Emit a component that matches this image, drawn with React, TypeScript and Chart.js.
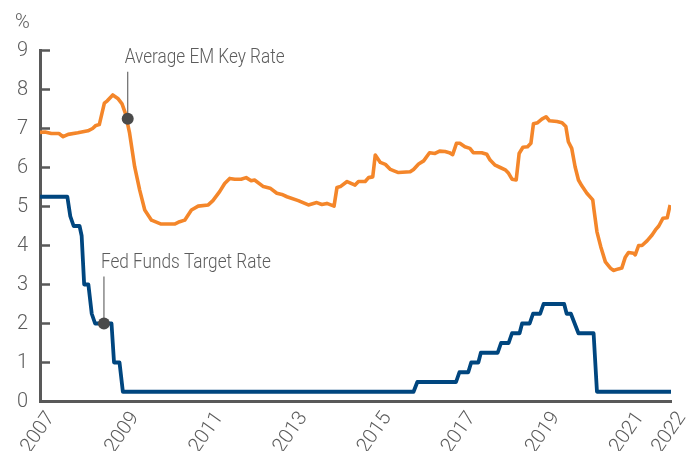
import React, { useEffect, useRef } from 'react';
import { Chart, registerables } from 'chart.js';

Chart.register(...registerables);

// ---- Data ----
const emYears = [
  2007.0, 2007.12, 2007.27, 2007.45, 2007.55, 2007.67, 2007.9, 2008.14, 2008.25, 2008.33,
  2008.41, 2008.53, 2008.6, 2008.73, 2008.85, 2008.95, 2009.03, 2009.13, 2009.25, 2009.37,
  2009.49, 2009.65, 2009.88, 2010.2, 2010.32, 2010.44, 2010.6, 2010.76, 2011.0, 2011.11,
  2011.27, 2011.39, 2011.51, 2011.63, 2011.78, 2011.9, 2012.02, 2012.1, 2012.31, 2012.47,
  2012.63, 2012.75, 2012.87, 2013.14, 2013.38, 2013.58, 2013.7, 2013.82, 2013.99, 2014.06,
  2014.14, 2014.3, 2014.49, 2014.57, 2014.73, 2014.81, 2014.91, 2014.97, 2015.09, 2015.21,
  2015.33, 2015.4, 2015.52, 2015.8, 2015.88, 2016.0, 2016.12, 2016.26, 2016.39, 2016.5,
  2016.63, 2016.73, 2016.81, 2016.9, 2016.98, 2017.1, 2017.22, 2017.3, 2017.5, 2017.62,
  2017.7, 2017.82, 2017.94, 2018.06, 2018.14, 2018.22, 2018.32, 2018.39, 2018.48, 2018.59,
  2018.67, 2018.73, 2018.83, 2018.93, 2019.03, 2019.11, 2019.29, 2019.41, 2019.5, 2019.56,
  2019.64, 2019.72, 2019.8, 2019.88, 2020.0, 2020.14, 2020.17, 2020.24, 2020.33, 2020.44,
  2020.56, 2020.63, 2020.75, 2020.83, 2020.91, 2020.99, 2021.11, 2021.15, 2021.23, 2021.31,
  2021.43, 2021.55, 2021.63, 2021.71, 2021.81, 2021.91, 2021.98,
];
const emRates = [
  6.9, 6.91, 6.87, 6.87, 6.79, 6.85, 6.89, 6.94, 7.0, 7.08,
  7.1, 7.65, 7.71, 7.86, 7.77, 7.63, 7.39, 6.88, 6.02, 5.42,
  4.91, 4.65, 4.55, 4.55, 4.61, 4.65, 4.91, 5.01, 5.04, 5.15,
  5.38, 5.59, 5.72, 5.7, 5.7, 5.74, 5.66, 5.68, 5.51, 5.47,
  5.34, 5.31, 5.25, 5.15, 5.04, 5.1, 5.05, 5.08, 5.01, 5.49,
  5.51, 5.64, 5.55, 5.64, 5.64, 5.74, 5.76, 6.32, 6.13, 6.08,
  5.95, 5.92, 5.87, 5.89, 5.95, 6.09, 6.17, 6.38, 6.36, 6.42,
  6.41, 6.38, 6.33, 6.62, 6.62, 6.53, 6.49, 6.38, 6.38, 6.34,
  6.19, 6.06, 6.0, 5.94, 5.85, 5.7, 5.68, 6.36, 6.52, 6.53,
  6.62, 7.12, 7.15, 7.24, 7.3, 7.2, 7.18, 7.15, 7.05, 6.66,
  6.49, 6.02, 5.68, 5.53, 5.34, 5.17, 4.91, 4.35, 3.97, 3.58,
  3.42, 3.36, 3.4, 3.42, 3.69, 3.82, 3.8, 3.76, 4.0, 4.0,
  4.12, 4.27, 4.4, 4.5, 4.7, 4.71, 5.04,
];

const fedYears = [
  2007.0, 2007.65, 2007.72, 2007.8, 2007.94, 2007.99, 2008.05, 2008.15, 2008.23, 2008.31,
  2008.7, 2008.76, 2008.89, 2008.97, 2015.88, 2015.97, 2016.89, 2016.97, 2017.18, 2017.25,
  2017.42, 2017.48, 2017.88, 2017.96, 2018.14, 2018.22, 2018.4, 2018.46, 2018.64, 2018.72,
  2018.89, 2018.97, 2019.46, 2019.52, 2019.62, 2019.8, 2020.16, 2020.24, 2022.0,
];
const fedRates = [
  5.25, 5.25, 4.75, 4.5, 4.5, 4.25, 3.0, 3.0, 2.25, 2.0,
  2.0, 1.0, 1.0, 0.25, 0.25, 0.5, 0.5, 0.75, 0.75, 1.0,
  1.0, 1.25, 1.25, 1.5, 1.5, 1.75, 1.75, 2.0, 2.0, 2.25,
  2.25, 2.5, 2.5, 2.25, 2.25, 1.75, 1.75, 0.25, 0.25,
];

const xTickYears = [2007, 2009, 2011, 2013, 2015, 2017, 2019, 2021, 2022];
const yTickValues = [0, 1, 2, 3, 4, 5, 6, 7, 8, 9];
const seriesNames = ['Average EM Key Rate', 'Fed Funds Target Rate'];
const calloutYears = [2009.085, 2008.52];
const calloutValues = [7.25, 2.0];
const unitLabel = '%';

// ---- Styles ----
const FONT_FAMILY = "Roboto, 'Liberation Sans', sans-serif";
const FONT_WEIGHT = '300';
const TEXT_SQUEEZE = 0.86;
const ORANGE = '#F4862A';
const NAVY = '#00467F';
const AXIS = '#595959';
const TEXT = '#5c5c5c';
const DOT = '#4a4a4a';

const insideTicks = {
  id: 'insideTicks',
  beforeDatasetsDraw(chart: any) {
    const { ctx, chartArea, scales } = chart;
    const y = scales.y;
    ctx.save();
    ctx.strokeStyle = AXIS;
    ctx.lineWidth = 2.5;
    y.ticks.forEach((t: any) => {
      const py = y.getPixelForValue(t.value);
      ctx.beginPath();
      ctx.moveTo(chartArea.left, py);
      ctx.lineTo(chartArea.left + 10, py);
      ctx.stroke();
    });
    ctx.restore();
  },
};

function drawText(ctx: CanvasRenderingContext2D, text: string, x: number, y: number, squeeze: number) {
  ctx.save();
  ctx.translate(x, y);
  ctx.scale(squeeze, 1);
  ctx.fillText(text, 0, 0);
  ctx.restore();
}

const callouts = {
  id: 'callouts',
  afterDatasetsDraw(chart: any) {
    const { ctx, scales, chartArea } = chart;
    const x = scales.x;
    const y = scales.y;
    ctx.save();
    ctx.font = `${FONT_WEIGHT} 20px ${FONT_FAMILY}`;
    ctx.textAlign = 'left';
    ctx.textBaseline = 'alphabetic';
    seriesNames.forEach((name, i) => {
      const px = x.getPixelForValue(calloutYears[i]);
      const py = y.getPixelForValue(calloutValues[i]);
      ctx.strokeStyle = '#6a6a6a';
      ctx.lineWidth = 1.2;
      ctx.beginPath();
      ctx.moveTo(px, py);
      ctx.lineTo(px, py - 47);
      ctx.stroke();
      ctx.fillStyle = DOT;
      ctx.beginPath();
      ctx.arc(px, py, 6, 0, Math.PI * 2);
      ctx.fill();
      ctx.fillStyle = TEXT;
      drawText(ctx, name, px - 3, py - 55.5, TEXT_SQUEEZE);
    });
    ctx.fillStyle = TEXT;
    drawText(ctx, unitLabel, scales.y.left + 15, chartArea.top - 22.5, 1);
    ctx.restore();
  },
};

export default function App() {
  const canvasRef = useRef<HTMLCanvasElement | null>(null);

  useEffect(() => {
    if (!canvasRef.current) return;
    const chart = new Chart(canvasRef.current, {
      type: 'line',
      data: {
        datasets: [
          {
            label: seriesNames[0],
            data: emYears.map((yr, i) => ({ x: yr, y: emRates[i] })),
            borderColor: ORANGE,
            borderWidth: 3.6,
            pointRadius: 0,
            tension: 0,
            fill: false,
            borderJoinStyle: 'round',
          },
          {
            label: seriesNames[1],
            data: fedYears.map((yr, i) => ({ x: yr, y: fedRates[i] })),
            borderColor: NAVY,
            borderWidth: 3.8,
            pointRadius: 0,
            tension: 0,
            fill: false,
            borderJoinStyle: 'round',
          },
        ],
      },
      options: {
        animation: false,
        responsive: false,
        devicePixelRatio: 1,
        layout: { padding: { top: 50.5, right: 17, left: 0, bottom: 0 } },
        plugins: { legend: { display: false }, tooltip: { enabled: false } },
        scales: {
          x: {
            type: 'linear',
            min: 2007,
            max: 2022,
            afterBuildTicks: (s: any) => {
              s.ticks = xTickYears.map((v) => ({ value: v }));
            },
            afterFit: (s: any) => {
              s.height = 49.5;
              s.paddingLeft = 0;
              s.paddingRight = 0;
            },
            grid: { display: false, drawTicks: false },
            border: { display: true, color: AXIS, width: 3 },
            ticks: {
              autoSkip: false,
              minRotation: 55,
              maxRotation: 55,
              padding: 6,
              labelOffset: 11,
              color: TEXT,
              font: { family: FONT_FAMILY, size: 20, weight: FONT_WEIGHT },
              callback: (v: any) => String(v),
            },
          },
          y: {
            min: 0,
            max: 9,
            afterBuildTicks: (s: any) => {
              s.ticks = yTickValues.map((v) => ({ value: v }));
            },
            afterFit: (s: any) => {
              s.width = 40;
            },
            grid: { display: false, drawTicks: false },
            border: { display: true, color: AXIS, width: 3 },
            ticks: {
              padding: 12,
              color: TEXT,
              font: { family: FONT_FAMILY, size: 20, weight: FONT_WEIGHT },
              callback: (v: any) => String(v),
            },
          },
        },
      },
      plugins: [insideTicks, callouts],
    } as any);
    return () => chart.destroy();
  }, []);

  return (
    <div style={{ position: 'fixed', left: 0, top: 0, width: 688, height: 451, background: '#fff' }}>
      <canvas ref={canvasRef} width={688} height={451} />
    </div>
  );
}
